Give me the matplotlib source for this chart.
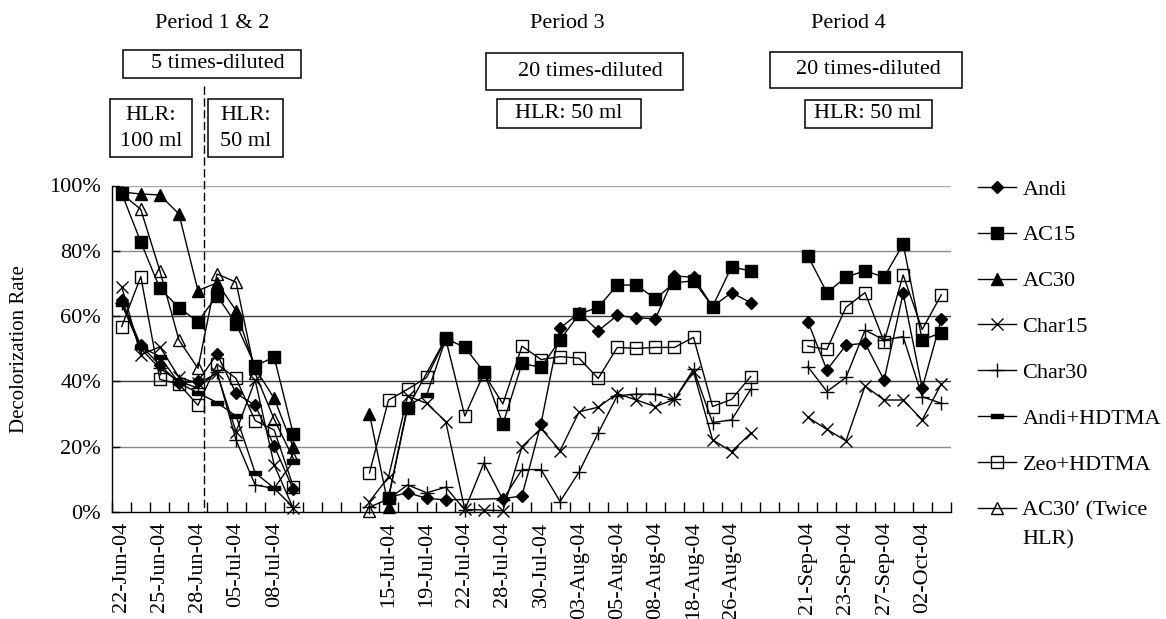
import numpy as np
import matplotlib
matplotlib.use('Agg')
import matplotlib.pyplot as plt
from matplotlib.lines import Line2D
from matplotlib.patches import Rectangle

plt.rcParams['font.family'] = ['Liberation Serif', 'DejaVu Serif']

nan = np.nan
W, H = 1166, 619

# ---------------- data ----------------
tick_labels = ["22-Jun-04", "25-Jun-04", "28-Jun-04", "05-Jul-04", "08-Jul-04", "", "",
               "15-Jul-04", "19-Jul-04", "22-Jul-04", "28-Jul-04", "30-Jul-04", "03-Aug-04",
               "05-Aug-04", "08-Aug-04", "18-Aug-04", "26-Aug-04", "", "21-Sep-04",
               "23-Sep-04", "27-Sep-04", "02-Oct-04"]
n_cat = 44
periods = [(0, 9), (13, 33), (36, 43)]

andi = [65, 51, 45, 39.5, 40, 48.4, 36.3, 32.7, 20.2, 6.9,
        nan, nan, nan,
        nan, 4.5, 5.9, 4.2, 3.7, nan, nan, 4.1, 4.9, 27.1, 56.3, 61, 55.5, 60.2, 59.5, 59.2,
        72.3, 71.9, 62.9, 67.2, 64.1,
        nan, nan,
        58.3, 43.5, 51.1, 51.7, 40.4, 67, 37.9, 59]
ac15 = [97.6, 82.7, 68.5, 62.6, 58.3, 66.3, 57.6, 44.8, 47.4, 23.9,
        nan, nan, nan,
        nan, 4.4, 31.9, nan, 53.2, 50.4, 43, 26.9, 45.5, 44.3, 52.7, 60.6, 62.7, 69.5, 69.5,
        65.3, 70.2, 70.8, 62.9, 75.1, 73.8,
        nan, nan,
        78.4, 67.2, 71.9, 73.9, 71.9, 82.1, 52.7, 54.9]
ac30 = [98, 97.4, 97.1, 91.3, 67.8, 70.2, 61.7, 44, 34.8, 19.8,
        nan, nan, nan,
        30, 1.6, nan, nan, nan, nan, nan, nan, nan, nan, nan, nan, nan, nan, nan, nan,
        nan, nan, nan, nan, nan,
        nan, nan,
        nan, nan, nan, nan, nan, nan, nan, nan]
char15 = [69, 48.1, 50.6, 41.3, 39.4, 42.5, 24.6, 40.4, 14.4, 1.1,
          nan, nan, nan,
          3.2, 10.8, 35.5, 33.3, 27.7, 0.8, 0.6, 0.4, 20, 25.6, 18.8, 30.7, 32.1, 36.3, 34.3,
          32.3, 34.5, 43, 22.1, 18.5, 24.1,
          nan, nan,
          29, 25.3, 21.8, 38.6, 34.3, 34.3, 28.2, 39.2]
char30 = [64, 50, 44, 40, 38, 43, 22, 8.3, 7.2, 1.5,
          nan, nan, nan,
          1.5, 4, 8.3, 5.9, 7.6, 0.6, 15, 3.8, 13, 13, 3.2, 12.3, 24.2, 35.6, 36.1, 36.1,
          34.5, 43.7, 27.4, 28.2, 37.6,
          nan, nan,
          44.5, 36.9, 41.2, 55.7, 52.7, 53.7, 35.3, 33.3]
andi_hdtma = [63.6, 50.6, 47.6, 39.5, 36.5, 33.5, 29.4, 12, 7.3, 15.5,
              nan, nan, nan,
              nan, 4.5, 32.5, 35.8, 53, nan, nan, nan, nan, nan, nan, nan, nan, nan, nan, nan,
              nan, nan, nan, nan, nan,
              nan, nan,
              nan, nan, nan, nan, nan, nan, nan, nan]
zeo_hdtma = [56.8, 72.1, 40.6, 39.2, 32.7, 45.3, 40.9, 28, 25.1, 7.8,
             nan, nan, nan,
             12, 34.3, 37.6, 41.2, 53, 29.4, 42.4, 33.1, 50.8, 46.7, 47.6, 47.1, 40.9, 50.4,
             50.1, 50.4, 50.4, 53.5, 32.3, 34.5, 41.5,
             nan, nan,
             50.8, 49.8, 62.7, 67.2, 52.2, 72.6, 55.9, 66.5]
ac30_twice = [97.5, 92.7, 73.9, 52.7, 44, 72.9, 70.4, 42.5, 28.4, 16.4,
              nan, nan, nan,
              0.4, nan, nan, nan, nan, nan, nan, nan, nan, nan, nan, nan, nan, nan, nan, nan,
              nan, nan, nan, nan, nan,
              nan, nan,
              nan, nan, nan, nan, nan, nan, nan, nan]

bar_marker = [(-1, -0.38), (1, -0.38), (1, 0.38), (-1, 0.38), (-1, -0.38)]

series = [
    ("Andi", andi, dict(marker='D', ms=6.5, mfc='black', mec='black')),
    ("AC15", ac15, dict(marker='s', ms=8, mfc='black', mec='black')),
    ("AC30", ac30, dict(marker='^', ms=8.5, mfc='black', mec='black')),
    ("Char15", char15, dict(marker='x', ms=8.5, mew=1.0, mec='black')),
    ("Char30", char30, dict(marker='+', ms=10, mew=1.0, mec='black')),
    ("Andi+HDTMA", andi_hdtma, dict(marker=bar_marker, ms=8, mfc='black', mec='black')),
    ("Zeo+HDTMA", zeo_hdtma, dict(marker='s', ms=8.5, mfc='none', mec='black', mew=1.0)),
    ("AC30\u2032 (Twice", ac30_twice, dict(marker='^', ms=9, mfc='none', mec='black', mew=1.0)),
]
legend_tail = "HLR)"

# ---------------- figure ----------------
fig = plt.figure(figsize=(W / 100, H / 100), dpi=100)
ax_left, ax_right, ax_top, ax_bottom = 112.2, 950.8, 185.5, 512.0
ax = fig.add_axes([ax_left / W, 1 - ax_bottom / H, (ax_right - ax_left) / W,
                   (ax_bottom - ax_top) / H])

handles = []
for z, (label, vals, style) in enumerate(series):
    vals = np.array(vals, dtype=float)
    first = None
    for (a, b) in periods:
        xs = np.arange(a, b + 1)
        ys = vals[a:b + 1]
        ok = ~np.isnan(ys)
        if ok.sum() == 0:
            continue
        ln, = ax.plot(xs[ok], ys[ok], color='black', lw=1.0, clip_on=False,
                      zorder=3 + z, **style)
        if first is None:
            first = ln
    handles.append((first, label))

ax.set_xlim(-0.5, n_cat - 0.5)
ax.set_ylim(0, 100)
ax.set_xticks(np.arange(0, n_cat, 2))
ax.set_xticklabels(tick_labels, rotation=90, fontsize=16)
ax.set_xticks(np.arange(-0.5, n_cat, 1), minor=True)
ax.tick_params(axis='x', which='major', length=0, pad=7)
ax.tick_params(axis='x', which='minor', direction='in', length=7, width=1)
ax.set_yticks([0, 20, 40, 60, 80, 100])
ax.set_yticklabels(["0%", "20%", "40%", "60%", "80%", "100%"], fontsize=16)
ax.tick_params(axis='y', direction='in', length=6, width=1, pad=8)
grid_colors = {20: '#8a8a8a', 40: '#3a3a3a', 60: '#3a3a3a', 80: '#8a8a8a', 100: '#a8a8a8'}
for gy, gc in grid_colors.items():
    ax.axhline(gy, color=gc, lw=1.0, zorder=1)
for s in ['top', 'right']:
    ax.spines[s].set_visible(False)
for s in ['left', 'bottom']:
    ax.spines[s].set_color('black')
    ax.spines[s].set_linewidth(1.0)

fig.text(20 / W, 1 - 349 / H, "Decolorization Rate", rotation=90, ha='center', va='center',
         fontsize=15)

# legend
leg = fig.legend([h for h, l in handles], [l for h, l in handles], loc='upper left',
                 bbox_to_anchor=(978 / W, 1 - 179 / H), frameon=False, fontsize=16,
                 handlelength=1.7, handletextpad=0.3, labelspacing=1.14, borderaxespad=0,
                 borderpad=0)
fig.canvas.draw()
last = leg.get_texts()[-1]
bb = last.get_window_extent()
fig.text(bb.x0 / W, (bb.y0 + bb.y1) / 2 / H - 28.5 / H, legend_tail, ha='left', va='center',
         fontsize=16)


def px(x, y):
    return x / W, 1 - y / H


def box(x0, y0, x1, y1):
    fig.patches.append(Rectangle(px(x0, y1), (x1 - x0) / W, (y1 - y0) / H,
                                 transform=fig.transFigure, fill=False, ec='black', lw=1.1))


def txt(x, y, s, **kw):
    fig.text(*px(x, y), s, ha='center', va='center', fontsize=16, **kw)


txt(212, 23, "Period 1 & 2")
txt(567, 23, "Period 3")
txt(848, 23, "Period 4")

box(123, 50, 301, 78)
txt(218, 64, "5 times-diluted")
box(110, 99, 192, 157)
txt(151, 128, "HLR:\n100 ml", linespacing=1.5)
box(208, 99, 283, 157)
txt(246, 128, "HLR:\n50 ml", linespacing=1.5)

box(486, 53, 683, 90)
txt(590, 71, "20 times-diluted")
box(497, 99, 641, 128)
txt(569, 113.5, "HLR: 50 ml")

box(770, 52, 962, 88)
txt(868, 70, "20 times-diluted")
box(805, 100, 932, 128)
txt(868, 114, "HLR: 50 ml")

fig.lines.append(Line2D([204 / W, 204 / W], [1 - 86 / H, 1 - 512 / H], transform=fig.transFigure,
                        color='black', lw=1.0, dashes=(6, 2.5)))

fig.savefig("out.png", dpi=100)
